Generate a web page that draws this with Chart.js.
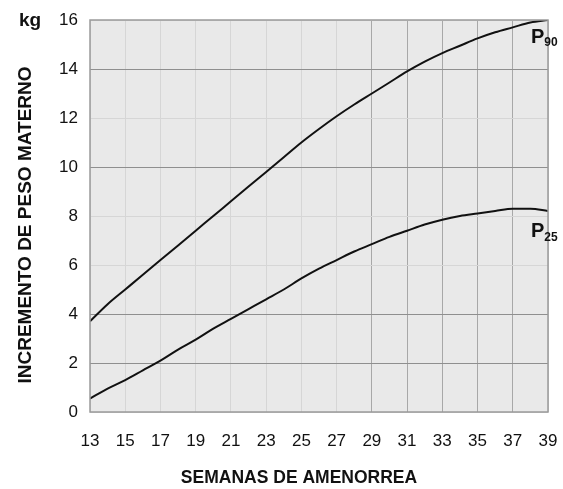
<!DOCTYPE html>
<html>
<head>
<meta charset="utf-8">
<script src="https://cdn.jsdelivr.net/npm/chart.js@4"></script>
<style>
  html, body { margin: 0; padding: 0; background: #ffffff; }
  #wrap { width: 563px; height: 489px; position: relative; }
</style>
</head>
<body>
<div id="wrap"><canvas id="pesoChart"></canvas></div>
<script>
// semanas de amenorrea and percentile curves (kg)
const weeks = [13, 14, 15, 16, 17, 18, 19, 20, 21, 22, 23, 24, 25, 26, 27, 28, 29, 30, 31, 32, 33, 34, 35, 36, 37, 38, 39];
const p90 = [3.7, 4.4, 5.0, 5.6, 6.2, 6.8, 7.4, 8.0, 8.6, 9.2, 9.8, 10.4, 11.0, 11.55, 12.07, 12.55, 13.0, 13.45, 13.9, 14.3, 14.65, 14.95, 15.25, 15.5, 15.7, 15.9, 16.0];
const p25 = [0.55, 0.95, 1.3, 1.7, 2.1, 2.55, 2.95, 3.4, 3.8, 4.2, 4.6, 5.0, 5.45, 5.85, 6.2, 6.55, 6.85, 7.15, 7.4, 7.65, 7.85, 8.0, 8.1, 8.2, 8.3, 8.3, 8.2];
const curveLabels = [
    { main: 'P', sub: '90', at: 15.3 },
    { main: 'P', sub: '25', at: 7.35 }
];

const toPoints = arr => arr.map((v, i) => ({ x: weeks[i], y: v }));
const FONT = '"Liberation Sans", Arial, sans-serif';

// grey plot background, unit, axis titles and P labels
const decor = {
    id: 'decor',
    beforeDraw(chart) {
        const { ctx, chartArea: a } = chart;
        ctx.save();
        ctx.fillStyle = '#e9e9e9';
        ctx.fillRect(a.left, a.top, a.right - a.left, a.bottom - a.top);
        ctx.restore();
    },
    afterDraw(chart) {
        const { ctx, chartArea: a } = chart;
        ctx.save();
        ctx.strokeStyle = '#9a9a9a';
        ctx.lineWidth = 1.5;
        ctx.strokeRect(a.left, a.top, a.right - a.left, a.bottom - a.top);
        ctx.fillStyle = '#111';
        ctx.textBaseline = 'middle';
        ctx.font = 'bold 19px ' + FONT;
        ctx.fillText('kg', 19, 21);
        ctx.textAlign = 'center';
        ctx.font = 'bold 17.5px ' + FONT;
        ctx.fillText('SEMANAS DE AMENORREA', 299, 478);
        ctx.save();
        ctx.translate(26, 225);
        ctx.rotate(-Math.PI / 2);
        ctx.font = 'bold 19px ' + FONT;
        ctx.fillText('INCREMENTO DE PESO MATERNO', 0, 0);
        ctx.restore();
        ctx.textAlign = 'left';
        const ys = chart.scales.y;
        curveLabels.forEach(c => {
            const y = ys.getPixelForValue(c.at);
            ctx.font = 'bold 20px ' + FONT;
            ctx.fillText(c.main, 531, y);
            const w = ctx.measureText(c.main).width;
            ctx.font = 'bold 12px ' + FONT;
            ctx.fillText(c.sub, 531 + w, y + 6);
        });
        ctx.restore();
    }
};

const strongY = [2, 4, 10, 14];
const strongX = [29, 31, 33, 35, 37];

new Chart(document.getElementById('pesoChart'), {
    type: 'line',
    data: {
        datasets: [
            { data: toPoints(p90), borderColor: '#111', borderWidth: 2, pointRadius: 0, cubicInterpolationMode: 'monotone' },
            { data: toPoints(p25), borderColor: '#111', borderWidth: 2, pointRadius: 0, cubicInterpolationMode: 'monotone' }
        ]
    },
    options: {
        responsive: true,
        maintainAspectRatio: false,
        animation: false,
        layout: { padding: { top: 20, right: 15, left: 0, bottom: 0 } },
        plugins: { legend: { display: false }, tooltip: { enabled: false } },
        scales: {
            x: {
                type: 'linear',
                min: 13,
                max: 39,
                afterFit: s => { s.height = 77; s.paddingRight = 0; s.paddingLeft = 0; },
                grid: {
                    drawTicks: false,
                    color: c => strongX.includes(c.tick.value) ? '#a8a8a8' : '#d6d6d6'
                },
                border: { display: false },
                ticks: {
                    stepSize: 2,
                    padding: 19,
                    color: '#111',
                    font: { family: 'Liberation Sans', size: 17 }
                }
            },
            y: {
                min: 0,
                max: 16,
                afterFit: s => { s.width = 90; s.paddingTop = 0; s.paddingBottom = 0; },
                grid: {
                    drawTicks: false,
                    color: c => strongY.includes(c.tick.value) ? '#8f8f8f' : '#d6d6d6'
                },
                border: { display: false },
                ticks: {
                    stepSize: 2,
                    padding: 12,
                    color: '#111',
                    font: { family: 'Liberation Sans', size: 17 }
                }
            }
        }
    },
    plugins: [decor]
});
</script>
</body>
</html>
